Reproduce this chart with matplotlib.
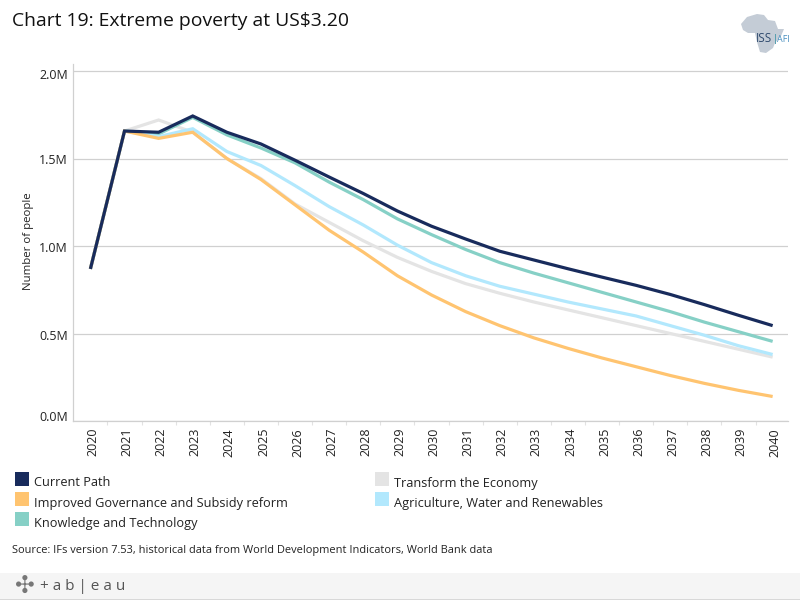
import matplotlib
matplotlib.use("Agg")
import matplotlib.pyplot as plt
from matplotlib.patches import Rectangle, Polygon
from matplotlib.ticker import FixedLocator
from matplotlib.transforms import ScaledTranslation

plt.rcParams['font.family'] = ['Open Sans', 'DejaVu Sans']

years = list(range(2020, 2041))
current_path = [0.869, 1.657, 1.650, 1.743, 1.650, 1.583, 1.490, 1.394, 1.300, 1.200, 1.113,
                1.040, 0.970, 0.920, 0.870, 0.822, 0.775, 0.723, 0.665, 0.604, 0.545]
transform_economy = [0.869, 1.657, 1.720, 1.650, 1.500, 1.385, 1.240, 1.135, 1.030, 0.935, 0.855,
                     0.785, 0.730, 0.680, 0.635, 0.590, 0.545, 0.500, 0.455, 0.410, 0.365]
improved_governance = [0.869, 1.657, 1.615, 1.650, 1.500, 1.380, 1.235, 1.090, 0.965, 0.830, 0.720,
                       0.625, 0.545, 0.475, 0.415, 0.360, 0.310, 0.260, 0.215, 0.175, 0.140]
agriculture = [0.869, 1.657, 1.625, 1.670, 1.540, 1.460, 1.345, 1.225, 1.120, 1.005, 0.905,
               0.830, 0.770, 0.725, 0.680, 0.640, 0.600, 0.545, 0.490, 0.430, 0.380]
knowledge = [0.869, 1.657, 1.640, 1.735, 1.635, 1.560, 1.475, 1.365, 1.265, 1.155, 1.065,
             0.980, 0.905, 0.845, 0.790, 0.735, 0.680, 0.625, 0.565, 0.510, 0.455]

y_ticks = [0.0, 0.5, 1.0, 1.5, 2.0]
y_labels = ['0.0M', '0.5M', '1.0M', '1.5M', '2.0M']

NAVY, GREY, ORANGE, SKY, TEAL = '#182b5c', '#e4e4e4', '#ffc470', '#b2e8fd', '#86d0c6'
TXT = '#222222'
RULE = '#d0d0d0'
W, H = 800, 600

fig = plt.figure(figsize=(8, 6), dpi=100, facecolor='white')
ax = fig.add_axes([73 / W, 1 - 421 / H, 715 / W, 357 / H])

draw_order = [(transform_economy, GREY), (knowledge, TEAL), (agriculture, SKY),
              (improved_governance, ORANGE), (current_path, NAVY)]
for series, colour in draw_order:
    ax.plot(years, series, color=colour, lw=2.3, solid_joinstyle='miter', solid_capstyle='butt', zorder=3)

ax.set_xlim(2019.49, 2040.45)
ax.set_ylim(0, 357 / 175)
ax.set_yticks(y_ticks)
ax.set_yticklabels(y_labels, fontsize=9, color=TXT)
ax.set_xticks(years)
ax.set_xticklabels([str(y) for y in years], rotation=90, fontsize=9, color=TXT)
ax.xaxis.set_minor_locator(FixedLocator([y + 0.5 for y in years[:-1]]))
ax.tick_params(axis='x', which='major', length=0, pad=5)
ax.tick_params(axis='x', which='minor', length=3, width=0.8, color='#e2e2e2')
ax.tick_params(axis='y', length=0, pad=5)
ax.grid(axis='y', color=RULE, lw=0.9, zorder=1)
ax.set_axisbelow(True)
for s in ('top', 'right'):
    ax.spines[s].set_visible(False)
for s in ('left', 'bottom'):
    ax.spines[s].set_color(RULE)
    ax.spines[s].set_linewidth(0.9)

# label offsets in pixels, as placed in the reference
y_label_dy = [5, -2, -1, -1, -3]
for lab, dy in zip(ax.get_yticklabels(), y_label_dy):
    lab.set_transform(lab.get_transform() + ScaledTranslation(2 / 100, dy / 100, fig.dpi_scale_trans))
for lab in ax.get_xticklabels():
    lab.set_transform(lab.get_transform() + ScaledTranslation(2.5 / 100, 0, fig.dpi_scale_trans))

fig.text(28 / W, 1 - 241 / H, 'Number of people', rotation=90, fontsize=8.2, color=TXT, ha='center', va='center')
fig.text(12 / W, 1 - 21 / H, 'Chart 19: Extreme poverty at US$3.20', fontsize=13.95, color='#111111', ha='left', va='center')

legend_names = ['Current Path', 'Improved Governance and Subsidy reform', 'Knowledge and Technology',
                'Transform the Economy', 'Agriculture, Water and Renewables']
legend_cols = [NAVY, ORANGE, TEAL, GREY, SKY]
legend_pos = [(15, 472), (15, 492), (15, 512), (375, 472), (375, 492)]
for name, col, (px, py) in zip(legend_names, legend_cols, legend_pos):
    fig.add_artist(Rectangle((px / W, 1 - (py + 14) / H), 14 / W, 14 / H, transform=fig.transFigure, fc=col, ec='none'))
    fig.text((px + 19) / W, 1 - (py + 11) / H, name, fontsize=9.15, color=TXT, ha='left', va='center')

fig.text(12 / W, 1 - 550 / H, 'Source: IFs version 7.53, historical data from World Development Indicators, World Bank data',
         fontsize=7.93, color=TXT, ha='left', va='center')

# footer band
fig.add_artist(Rectangle((0, 0), 1, 27 / H, transform=fig.transFigure, fc='#f5f5f5', ec='none'))
fig.add_artist(Rectangle((0, 0), 1, 1 / H, transform=fig.transFigure, fc='#d8d8d8', ec='none'))
fig.text(25 / W, 1 - 586 / H, '✣', fontsize=17, color='#777777', ha='center', va='center', family='DejaVu Sans')
fig.text(40 / W, 1 - 586 / H, '+ a b | e a u', fontsize=11, color='#555555', ha='left', va='center')

# logo
africa = [(741, 24), (747, 17), (757, 14), (764, 15), (768, 20), (775, 21), (778, 29), (784, 29), (781, 36),
          (775, 43), (773, 48), (766, 53), (760, 52), (757, 42), (755, 33), (748, 33), (743, 30)]
fig.add_artist(Polygon([(x / W, 1 - y / H) for x, y in africa], closed=True, transform=fig.transFigure,
                       fc='#c4ccd6', ec='none'))
fig.text(756 / W, 1 - 39 / H, 'ISS', fontsize=8.5, color='#2f4a6d', ha='left', va='center', zorder=5)
fig.text(777 / W, 1 - 39 / H, 'AFI', fontsize=6.5, color='#4a90c0', ha='left', va='center', zorder=5)
fig.add_artist(Rectangle((774.5 / W, 1 - 44 / H), 1 / W, 10 / H, transform=fig.transFigure, fc='#5aa0b0', ec='none'))

fig.savefig('out.png', dpi=100)
